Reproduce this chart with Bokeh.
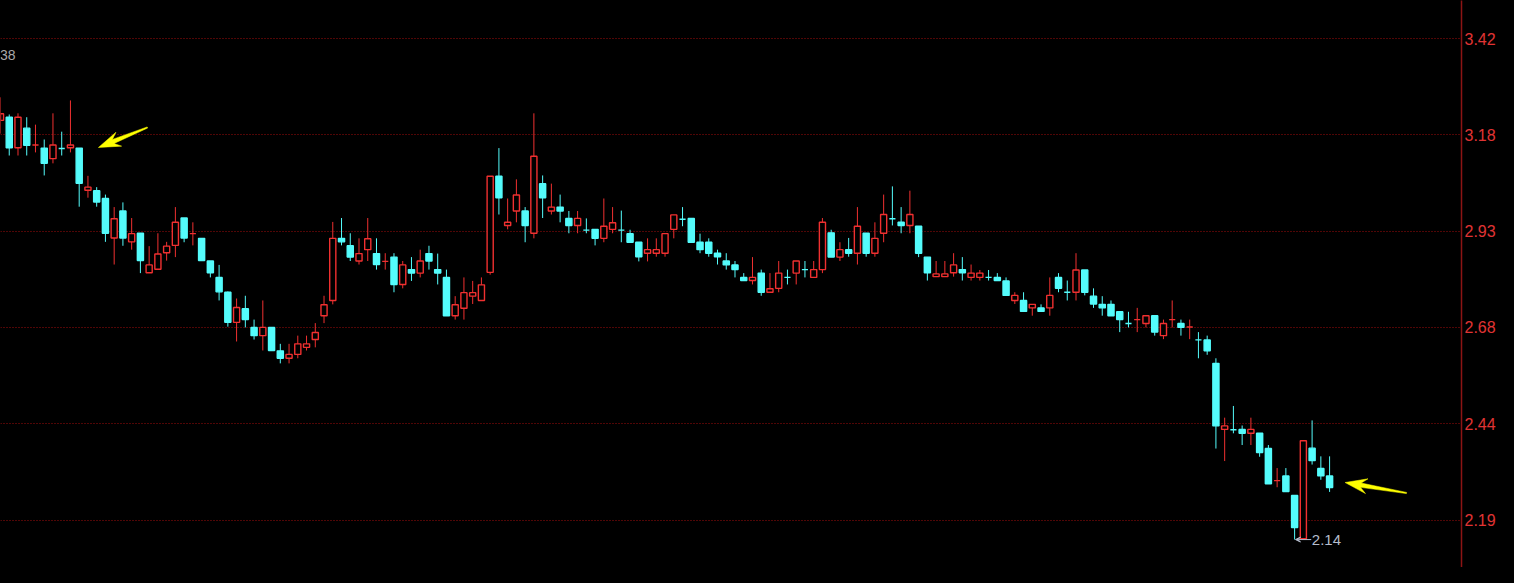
import math
from bokeh.plotting import figure
from bokeh.models import (Range1d, FixedTicker, PrintfTickFormatter, Label, Arrow,
                          VeeHead, ColumnDataSource, GlobalInlineStyleSheet)
from bokeh.embed import file_html
from bokeh.resources import INLINE

# ---------------- data (prices) ----------------
open_ = [3.213, 3.221, 3.143, 3.193, 3.150, 3.142, 3.115, 3.141, 3.143, 3.142,
         3.034, 3.033, 3.013, 2.912, 2.981, 2.902, 2.924, 2.823, 2.832, 2.874,
         2.893, 2.963, 2.923, 2.911, 2.853, 2.811, 2.773, 2.696, 2.731, 2.683,
         2.662, 2.683, 2.623, 2.604, 2.614, 2.632, 2.652, 2.713, 2.752, 2.911,
         2.892, 2.853, 2.882, 2.872, 2.852, 2.863, 2.793, 2.831, 2.822, 2.872,
         2.831, 2.811, 2.713, 2.732, 2.763, 2.752, 2.824, 3.070, 2.944, 2.981,
         2.981, 2.924, 3.051, 2.981, 2.991, 2.962, 2.944, 2.932, 2.934, 2.911,
         2.934, 2.932, 2.923, 2.901, 2.873, 2.873, 2.873, 2.934, 2.960, 2.962,
         2.901, 2.901, 2.873, 2.853, 2.843, 2.811, 2.803, 2.822, 2.773, 2.783,
         2.811, 2.822, 2.831, 2.811, 2.831, 2.925, 2.863, 2.882, 2.873, 2.924,
         2.873, 2.924, 2.961, 2.952, 2.944, 2.942, 2.863, 2.813, 2.813, 2.823,
         2.831, 2.811, 2.811, 2.811, 2.811, 2.802, 2.752, 2.752, 2.733, 2.733,
         2.733, 2.811, 2.773, 2.773, 2.830, 2.763, 2.742, 2.742, 2.723, 2.693,
         2.703, 2.693, 2.713, 2.662, 2.703, 2.693, 2.684, 2.651, 2.651, 2.591,
         2.422, 2.421, 2.422, 2.412, 2.412, 2.373, 2.291, 2.303, 2.253, 2.142,
         2.374, 2.322, 2.303]
high = [3.272, 3.228, 3.231, 3.221, 3.202, 3.164, 3.231, 3.184, 3.264, 3.142,
        3.071, 3.042, 3.023, 2.991, 3.003, 2.963, 2.924, 2.891, 2.924, 2.902,
        2.991, 2.963, 2.952, 2.911, 2.853, 2.843, 2.775, 2.757, 2.764, 2.703,
        2.752, 2.683, 2.641, 2.641, 2.662, 2.662, 2.694, 2.764, 2.953, 2.963,
        2.924, 2.911, 2.963, 2.911, 2.873, 2.873, 2.853, 2.863, 2.882, 2.892,
        2.872, 2.831, 2.763, 2.811, 2.802, 2.811, 3.070, 3.142, 3.013, 3.062,
        2.991, 3.231, 3.072, 3.051, 3.023, 2.981, 2.981, 2.962, 2.934, 3.013,
        2.991, 2.982, 2.933, 2.901, 2.911, 2.911, 2.923, 2.971, 2.991, 2.962,
        2.923, 2.911, 2.882, 2.873, 2.853, 2.822, 2.863, 2.831, 2.822, 2.853,
        2.831, 2.853, 2.853, 2.853, 2.963, 2.933, 2.901, 2.912, 2.991, 2.924,
        2.952, 3.023, 3.044, 2.991, 3.033, 2.942, 2.863, 2.853, 2.853, 2.873,
        2.863, 2.844, 2.830, 2.830, 2.822, 2.811, 2.773, 2.773, 2.742, 2.742,
        2.811, 2.822, 2.803, 2.873, 2.830, 2.783, 2.763, 2.752, 2.723, 2.723,
        2.733, 2.713, 2.713, 2.703, 2.752, 2.703, 2.703, 2.671, 2.662, 2.604,
        2.452, 2.482, 2.432, 2.452, 2.412, 2.382, 2.323, 2.323, 2.253, 2.393,
        2.445, 2.353, 2.353]
low = [3.179, 3.123, 3.123, 3.123, 3.131, 3.072, 3.103, 3.123, 3.131, 2.992,
       3.015, 2.992, 2.902, 2.844, 2.892, 2.882, 2.822, 2.823, 2.832, 2.854,
       2.863, 2.901, 2.893, 2.854, 2.811, 2.752, 2.685, 2.647, 2.683, 2.652,
       2.624, 2.624, 2.591, 2.591, 2.604, 2.624, 2.632, 2.694, 2.742, 2.893,
       2.853, 2.844, 2.853, 2.831, 2.831, 2.773, 2.783, 2.802, 2.811, 2.831,
       2.793, 2.713, 2.703, 2.703, 2.743, 2.752, 2.818, 2.972, 2.934, 2.952,
       2.901, 2.911, 2.963, 2.972, 2.952, 2.924, 2.924, 2.924, 2.893, 2.901,
       2.924, 2.901, 2.901, 2.852, 2.852, 2.864, 2.864, 2.911, 2.942, 2.901,
       2.873, 2.864, 2.844, 2.831, 2.811, 2.803, 2.793, 2.764, 2.773, 2.773,
       2.793, 2.793, 2.811, 2.811, 2.822, 2.863, 2.853, 2.864, 2.844, 2.864,
       2.864, 2.901, 2.944, 2.924, 2.924, 2.863, 2.803, 2.813, 2.813, 2.813,
       2.803, 2.803, 2.803, 2.803, 2.803, 2.765, 2.743, 2.724, 2.713, 2.724,
       2.713, 2.773, 2.752, 2.752, 2.765, 2.733, 2.713, 2.713, 2.671, 2.683,
       2.671, 2.683, 2.662, 2.653, 2.683, 2.662, 2.653, 2.604, 2.613, 2.373,
       2.341, 2.412, 2.382, 2.382, 2.352, 2.283, 2.274, 2.263, 2.140, 2.142,
       2.332, 2.293, 2.262]
close = [3.230, 3.143, 3.221, 3.149, 3.150, 3.103, 3.150, 3.141, 3.150, 3.052,
         3.042, 3.004, 2.924, 2.961, 2.912, 2.923, 2.854, 2.843, 2.871, 2.891,
         2.952, 2.912, 2.923, 2.854, 2.823, 2.774, 2.696, 2.734, 2.703, 2.662,
         2.683, 2.624, 2.604, 2.614, 2.641, 2.641, 2.670, 2.741, 2.911, 2.902,
         2.863, 2.872, 2.910, 2.844, 2.852, 2.793, 2.843, 2.822, 2.853, 2.853,
         2.822, 2.713, 2.741, 2.772, 2.772, 2.792, 3.070, 3.015, 2.952, 3.022,
         2.944, 3.121, 3.015, 2.991, 2.981, 2.944, 2.962, 2.932, 2.911, 2.942,
         2.951, 2.932, 2.901, 2.864, 2.882, 2.882, 2.923, 2.971, 2.960, 2.901,
         2.882, 2.873, 2.864, 2.843, 2.831, 2.803, 2.811, 2.773, 2.782, 2.822,
         2.811, 2.853, 2.831, 2.831, 2.952, 2.863, 2.882, 2.873, 2.942, 2.873,
         2.911, 2.972, 2.961, 2.944, 2.972, 2.873, 2.823, 2.820, 2.820, 2.843,
         2.823, 2.822, 2.822, 2.811, 2.803, 2.765, 2.765, 2.724, 2.742, 2.724,
         2.765, 2.783, 2.773, 2.830, 2.773, 2.743, 2.733, 2.713, 2.703, 2.693,
         2.703, 2.713, 2.671, 2.693, 2.703, 2.683, 2.684, 2.651, 2.623, 2.431,
         2.431, 2.421, 2.412, 2.422, 2.363, 2.283, 2.291, 2.263, 2.171, 2.393,
         2.342, 2.303, 2.273]
tick_values = [2.19, 2.4365, 2.683, 2.9296, 3.176, 3.4224]
tick_labels = ["2.19", "2.44", "2.68", "2.93", "3.18", "3.42"]
offscreen_high_label = "38"   # visible part of the "3.38" high marker (cut off at left)
high_marker_price = 3.38

# ---------------- styles ----------------
UP = "#f03030"
DOWN = "#54fcfc"
BG = "#000000"
GRID = "#a00c0c"
AXIS = "#8c1414"
LABEL = "#e03434"
MARK = "#b4bccc"
YEL = "#ffff00"

W, H = 1498, 567
FRAME_L, FRAME_R, FRAME_T, FRAME_B = 0, 1462, 0, 567   # figure pixels
X0, X1 = 0.0, 1462 / 8.75
Y0, Y1 = 2.06852, 3.51976

p = figure(width=W, height=H, x_range=Range1d(X0, X1), y_range=Range1d(Y0, Y1),
           output_backend="svg", toolbar_location=None, y_axis_location="right",
           x_axis_location=None, min_border_left=0, min_border_top=0,
           min_border_bottom=0, min_border_right=W - (FRAME_R - FRAME_L))
p.background_fill_color = BG
p.border_fill_color = BG
p.outline_line_color = None
p.stylesheets = [GlobalInlineStyleSheet(css="html, body { background-color: #000000; }")]

# candles
n = len(open_)
idx = list(range(n))
colors, fills, tops, bots = [], [], [], []
for i in range(n):
    o, c = open_[i], close[i]
    prev = close[i - 1] if i > 0 else o
    up = c > o or (c == o and c >= prev)
    colors.append(UP if up else DOWN)
    fills.append(BG if up else DOWN)
    tops.append(max(o, c))
    bots.append(min(o, c))

src = ColumnDataSource(dict(x=idx, high=high, low=low, top=tops, bottom=bots,
                            color=colors, fill=fills))
p.segment(x0="x", y0="high", x1="x", y1="low", color="color", line_width=1, source=src)
p.vbar(x="x", width=0.7, top="top", bottom="bottom", fill_color="fill",
       line_color="color", line_width=1.4, source=src)

# grid / axis
ticker = FixedTicker(ticks=tick_values)
p.ygrid.ticker = ticker
p.xgrid.visible = False
p.ygrid.grid_line_color = GRID
p.ygrid.grid_line_dash = "1 2"
p.ygrid.grid_line_width = 1
ax = p.yaxis[0]
ax.ticker = ticker
ax.formatter = PrintfTickFormatter(format="%.2f")
ax.major_label_overrides = {v: t for v, t in zip(tick_values, tick_labels)}
ax.axis_line_color = AXIS
ax.axis_line_width = 1.5
ax.major_tick_line_color = None
ax.minor_tick_line_color = None
ax.major_tick_out = 0
ax.major_tick_in = 0
ax.minor_tick_out = 0
ax.minor_tick_in = 0
ax.major_label_text_color = LABEL
ax.major_label_text_font = "Liberation Sans"
ax.major_label_text_font_size = "16px"
ax.major_label_standoff = 3

# helper: figure pixel -> data
def px(ax_, ay_):
    dx = X0 + (ax_ - FRAME_L) / (FRAME_R - FRAME_L) * (X1 - X0)
    dy = Y1 - (ay_ - FRAME_T) / (FRAME_B - FRAME_T) * (Y1 - Y0)
    return dx, dy

# low marker
lo_i = min(range(n), key=lambda i: low[i])
lo = low[lo_i]
p.add_layout(Arrow(end=VeeHead(size=5, line_color=MARK, fill_color=MARK, line_width=1),
                   x_start=lo_i + 1.9, y_start=lo, x_end=lo_i + 0.1, y_end=lo,
                   line_color=MARK, line_width=1))
p.add_layout(Label(x=lo_i + 1.97, y=lo, text=f"{lo:.2f}", text_color=MARK,
                   text_font="Liberation Sans", text_font_size="15px",
                   text_baseline="middle", text_align="left"))

# off-screen high marker (cut at the left edge)
p.add_layout(Label(x=X0 - 0.05, y=high_marker_price, text=offscreen_high_label,
                   text_color="#a8a8a8", text_font="Liberation Sans",
                   text_font_size="14px", text_baseline="middle", text_align="left"))

# yellow arrows
def arrow_poly(tip, tail, hl=22, hw=7.5, sw=2.2, tw=0.6):
    tx, ty = tip
    ex, ey = tail
    dx, dy = ex - tx, ey - ty
    L = math.hypot(dx, dy)
    ux, uy = dx / L, dy / L
    nx, ny = -uy, ux
    pts = [(tx, ty),
           (tx + ux * hl + nx * hw, ty + uy * hl + ny * hw),
           (tx + ux * (hl - 6) + nx * sw, ty + uy * (hl - 6) + ny * sw),
           (ex + nx * tw, ey + ny * tw),
           (ex - nx * tw, ey - ny * tw),
           (tx + ux * (hl - 6) - nx * sw, ty + uy * (hl - 6) - ny * sw),
           (tx + ux * hl - nx * hw, ty + uy * hl - ny * hw)]
    d = [px(a, b) for a, b in pts]
    return [q[0] for q in d], [q[1] for q in d]

xs1, ys1 = arrow_poly((98, 147), (147, 127))
xs2, ys2 = arrow_poly((1345.5, 482), (1407, 492.5))
p.patches(xs=[xs1, xs2], ys=[ys1, ys2], fill_color=YEL, line_color=YEL, line_width=0.5)

open("out.html", "w").write(file_html(p, INLINE))
